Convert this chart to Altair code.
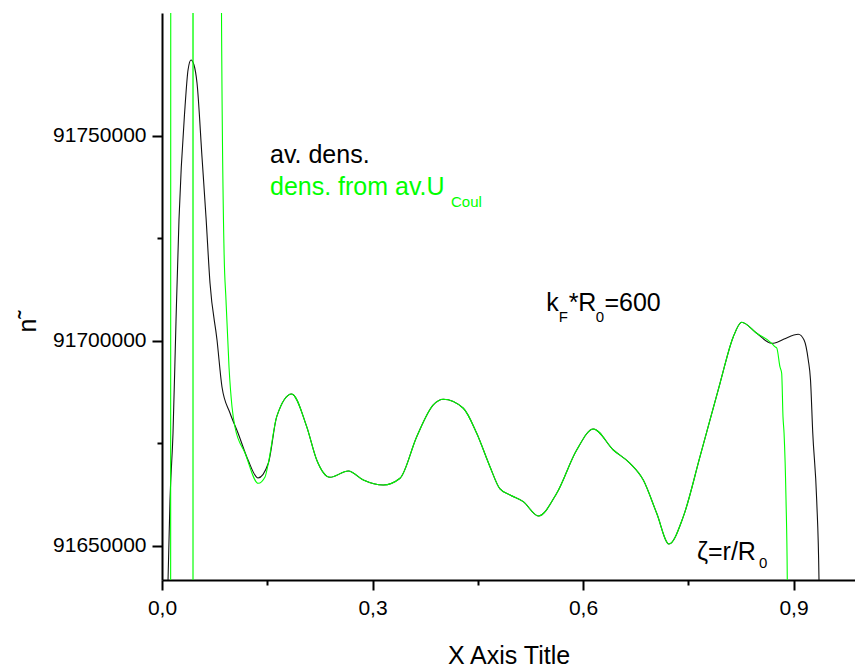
import altair as alt
import pandas as pd

FONT = "Liberation Sans"

# ---- data ----
black_left_x = [0.0040, 0.0086, 0.0114, 0.0157, 0.0200, 0.0242, 0.0328, 0.0371, 0.0413,
                0.0456, 0.0499, 0.0570, 0.0627, 0.0684, 0.0784, 0.0855, 0.0969, 0.1083,
                0.1226, 0.1368]
black_left_y = [91600000, 91641708, 91661220, 91677562, 91705122, 91729512, 91757073,
                91766097, 91768536, 91767317, 91762927, 91744878, 91730244, 91714146,
                91700244, 91688780, 91682439, 91677561, 91670976, 91666585]

mid_x = [0.1515, 0.1635, 0.1848, 0.2062, 0.2205, 0.2394, 0.2655, 0.2869, 0.3154, 0.3392,
         0.3630, 0.3866, 0.4009, 0.4294, 0.4485, 0.4674, 0.4817, 0.4960, 0.5149, 0.5363,
         0.5625, 0.5910, 0.6147, 0.6432, 0.6670, 0.6859, 0.7050, 0.7225, 0.7429, 0.7667,
         0.7952, 0.8142, 0.8261, 0.8475, 0.8689]
mid_y = [91670170, 91681537, 91687074, 91679098, 91670976, 91666756, 91668293, 91666098,
         91664879, 91666512, 91676658, 91684391, 91685781, 91683586, 91677488, 91669342,
         91663905, 91662440, 91660806, 91657318, 91662855, 91673415, 91678537, 91673415,
         91670170, 91666098, 91657977, 91650489, 91657147, 91671781, 91689684, 91701049,
         91704561, 91701878, 91699439]

black_right_x = [0.8733, 0.8865, 0.9068, 0.9150, 0.9210, 0.9242, 0.9274, 0.9330, 0.9363, 0.9370]
black_right_y = [91699512, 91700488, 91701634, 91700244, 91695366, 91690488, 91677561,
                 91661220, 91641708, 91631952]

green_left_x = [0.0100, 0.0123, 0.0125, 0.0440, 0.0442, 0.0444, 0.0846, 0.0848, 0.0884,
                0.0912, 0.0955, 0.0998, 0.1040, 0.1183, 0.1372, 0.1468]
green_left_y = [91550000, 91600000, 91830000, 91830000, 91600000, 91830000, 91830000,
                91780000, 91722195, 91710000, 91693660, 91683904, 91679024, 91672683,
                91665293, 91666829]

green_right_x = [0.8733, 0.8761, 0.8807, 0.8831, 0.8850, 0.8865, 0.8893, 0.8911, 0.8925]
green_right_y = [91698611, 91698293, 91693659, 91692124, 91681464, 91677488, 91661220,
                 91641708, 91600000]

x_major = [0.0, 0.3, 0.6, 0.9]
x_minor = [0.15, 0.45, 0.75]
y_major = [91650000, 91700000, 91750000]
y_minor = [91675000, 91725000]

X_DOMAIN = [0, 0.9876]
Y_DOMAIN = [91641700, 91780000]

black = pd.DataFrame({"x": black_left_x + mid_x + black_right_x,
                      "y": black_left_y + mid_y + black_right_y})
green = pd.DataFrame({"x": green_left_x + mid_x + green_right_x,
                      "y": green_left_y + mid_y + green_right_y})

xs = alt.Scale(domain=X_DOMAIN, nice=False, zero=False)
ys = alt.Scale(domain=Y_DOMAIN, nice=False, zero=False)

common = dict(domainColor="black", tickColor="black", tickWidth=2, domainWidth=2,
              grid=False, labelColor="black", labelFont=FONT, titleFont=FONT,
              titleColor="black", titleFontWeight="normal")

x_axis_major = alt.Axis(values=x_major, orient="bottom", tickSize=10, labelFontSize=21,
                        labelPadding=7, labelFlush=False,
                        labelExpr="replace(format(datum.value, '.1f'), '.', ',')",
                        title="X Axis Title", titleFontSize=25, titleY=83,
                        titleBaseline="alphabetic", **common)
x_axis_minor = alt.Axis(values=x_minor, orient="bottom", tickSize=5, labels=False,
                        domain=False, title=None, tickColor="black", tickWidth=2, grid=False)
y_axis_major = alt.Axis(values=y_major, orient="left", tickSize=10, labelFontSize=21,
                        labelPadding=6, format="d", title="n˜", titleFontSize=25,
                        titleX=-135, titleY=308, titleAlign="center",
                        titleBaseline="middle", **common)
y_axis_minor = alt.Axis(values=y_minor, orient="left", tickSize=5, labels=False,
                        domain=False, title=None, tickColor="black", tickWidth=2, grid=False)

black_line = alt.Chart(black).mark_line(color="#111111", strokeWidth=1.1, clip=True,
                                        interpolate="monotone").encode(
    x=alt.X("x:Q", scale=xs, axis=x_axis_major),
    y=alt.Y("y:Q", scale=ys, axis=y_axis_major),
)
green_line = alt.Chart(green).mark_line(color="#00ff00", strokeWidth=1.1, clip=True,
                                        interpolate="monotone").encode(
    x=alt.X("x:Q", scale=xs, axis=x_axis_minor),
    y=alt.Y("y:Q", scale=ys, axis=y_axis_minor),
)

# annotations (data coordinates)
labels = pd.DataFrame({
    "x": [0.1539, 0.1539, 0.5475, 0.5795, 0.6305, 0.7624],
    "y": [91743415, 91735610, 91707317, 91707317, 91707317, 91646586],
    "text": ["av. dens.", "dens. from av.U", "k", "*R", "=600", "ζ=r/R"],
    "color": ["black", "#00ff00", "black", "black", "black", "black"],
})
subs = pd.DataFrame({
    "x": [0.4119, 0.5655, 0.6180, 0.8508],
    "y": [91732683, 91704634, 91704634, 91644634],
    "text": ["Coul", "F", "0", "0"],
    "color": ["#00ff00", "black", "black", "black"],
})

main_text = alt.Chart(labels).mark_text(align="left", baseline="alphabetic", fontSize=25,
                                        font=FONT).encode(
    x=alt.X("x:Q", scale=xs, axis=None),
    y=alt.Y("y:Q", scale=ys, axis=None),
    text="text:N",
    color=alt.Color("color:N", scale=None),
)
sub_text = alt.Chart(subs).mark_text(align="left", baseline="alphabetic", fontSize=15,
                                     font=FONT).encode(
    x=alt.X("x:Q", scale=xs, axis=None),
    y=alt.Y("y:Q", scale=ys, axis=None),
    text="text:N",
    color=alt.Color("color:N", scale=None),
)

chart = alt.layer(black_line, green_line, main_text, sub_text).resolve_axis(
    x="independent", y="independent"
).properties(
    width=693, height=567,
    padding={"left": 162, "top": 13, "right": 0, "bottom": 89},
    autosize=alt.AutoSizeParams(type="none"),
    background="white",
).configure_view(stroke=None)

chart.save("out.html", embed_options={"renderer": "svg", "actions": False})
